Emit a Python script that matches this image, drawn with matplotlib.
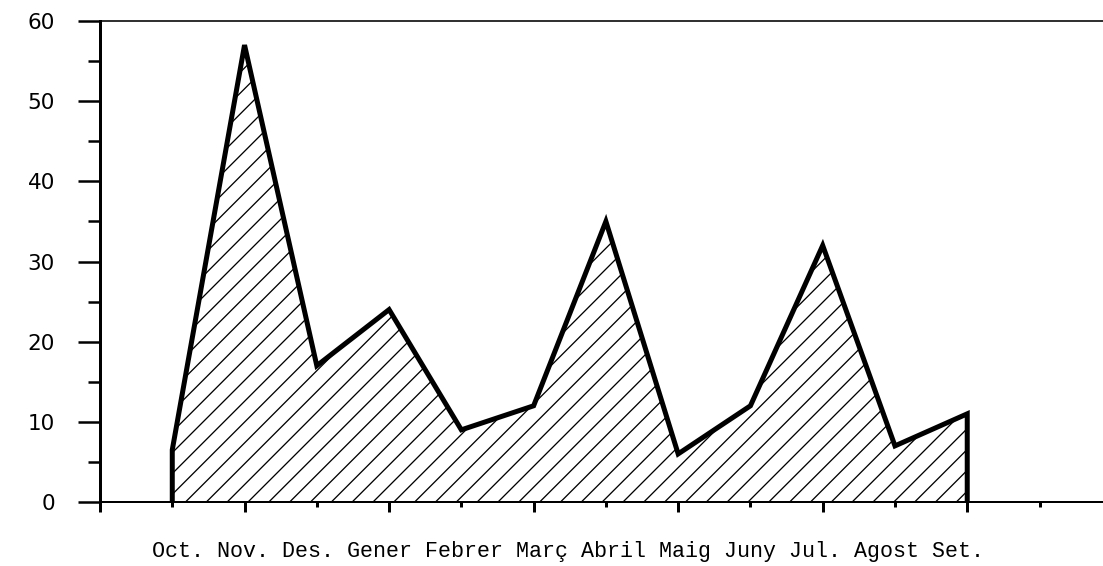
import matplotlib
matplotlib.use("Agg")
import matplotlib.pyplot as plt
from matplotlib.ticker import FixedLocator, NullFormatter

months = ["Oct.", "Nov.", "Des.", "Gener", "Febrer", "Març", "Abril",
          "Maig", "Juny", "Jul.", "Agost", "Set."]
values = [6.5, 57, 17, 24, 9, 12, 35, 6, 12, 32, 7, 11]
y_ticks = [0, 10, 20, 30, 40, 50, 60]

DPI = 125
W, H = 1103, 566


def P(px):
    return px * 72.0 / DPI


plt.rcParams["hatch.linewidth"] = P(1.3)
fig = plt.figure(figsize=(W / DPI, H / DPI), dpi=DPI)
ax = fig.add_axes([100 / W, 64 / H, (W - 100) / W, 481 / H])

x = list(range(len(months)))
ax.fill_between(x, values, 0, facecolor="white", edgecolor="black",
                hatch="//", linewidth=0, zorder=1)
ox = [x[0]] + x + [x[-1]]
oy = [0] + values + [0]
ax.plot(ox, oy, color="black", lw=P(5), solid_joinstyle="miter",
        solid_capstyle="butt", zorder=3, clip_on=False)

ax.set_xlim(-1, -1 + 1003 / 72.27)
ax.set_ylim(0, 60)

ax.spines["right"].set_visible(False)
ax.spines["left"].set_linewidth(P(3))
ax.spines["bottom"].set_linewidth(P(2))
ax.spines["top"].set_linewidth(P(1.6))
for s in ax.spines.values():
    s.set_zorder(4)

ax.set_yticks(y_ticks)
ax.set_yticklabels([str(v) for v in y_ticks], fontsize=P(21.5),
                   family="DejaVu Sans")
ax.yaxis.set_minor_locator(FixedLocator([5, 15, 25, 35, 45, 55]))
ax.tick_params(axis="y", which="major", length=P(22), width=P(2.5),
               pad=P(23), direction="out")
ax.tick_params(axis="y", which="minor", length=P(12), width=P(2.5),
               direction="out")

ax.xaxis.set_major_locator(FixedLocator(list(range(-1, len(months), 2))))
ax.xaxis.set_minor_locator(FixedLocator(list(range(0, len(months) + 1, 2))))
ax.xaxis.set_major_formatter(NullFormatter())
ax.tick_params(axis="x", which="major", length=P(10), width=P(3),
               direction="out")
ax.tick_params(axis="x", which="minor", length=P(5), width=P(3),
               direction="out")

fig.text(568 / W, 1 - 552 / H, " ".join(months), ha="center", va="center",
         fontsize=P(21.7), family="Liberation Mono", color="black")

fig.savefig("out.png", dpi=DPI, facecolor="white")
